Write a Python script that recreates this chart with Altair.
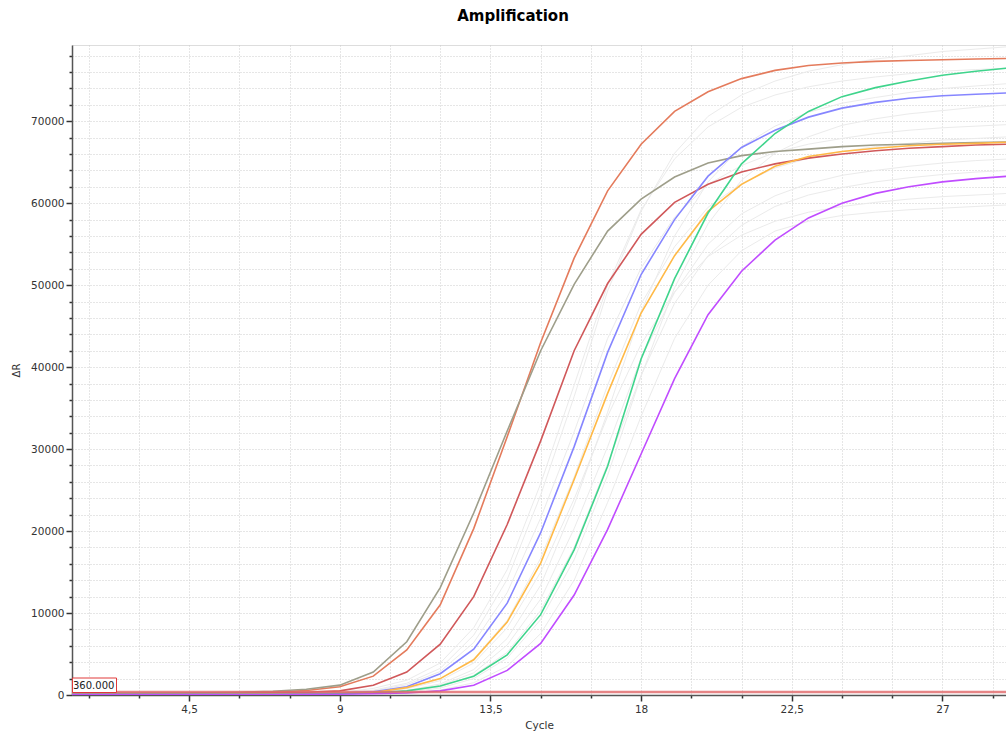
import altair as alt
import pandas as pd

cycles = list(range(1, 30))

# coloured amplification curves (ΔR per cycle 1..29)
salmon = [200, 200, 210, 220, 240, 280, 350, 550, 1000, 2300, 5500, 11000, 20300, 31500, 43000, 53300,
          61500, 67200, 71200, 73600, 75200, 76200, 76800, 77100, 77300, 77400, 77500, 77600, 77650]
olive = [200, 200, 210, 230, 260, 320, 450, 700, 1200, 2800, 6500, 13100, 22200, 32200, 42000, 50100,
         56600, 60500, 63200, 64900, 65800, 66300, 66600, 66900, 67100, 67200, 67300, 67400, 67450]
red = [150, 150, 150, 160, 170, 190, 230, 320, 500, 1200, 2800, 6200, 12000, 20800, 31000, 42000,
       50200, 56200, 60100, 62300, 63800, 64800, 65500, 66000, 66400, 66700, 66900, 67100, 67200]
blue = [100, 100, 100, 100, 110, 120, 140, 180, 250, 400, 1000, 2600, 5600, 11200, 19800, 30300,
        41800, 51300, 58000, 63300, 66800, 68900, 70500, 71600, 72300, 72800, 73100, 73300, 73450]
yellow = [100, 100, 100, 100, 100, 110, 120, 150, 200, 300, 900, 2000, 4300, 8900, 16100, 26300,
          36800, 46600, 53600, 59000, 62300, 64500, 65700, 66300, 66700, 67000, 67200, 67300, 67450]
green = [80, 80, 80, 80, 80, 90, 100, 120, 150, 250, 500, 1100, 2300, 4900, 9800, 17700,
         27900, 41000, 50800, 58800, 64800, 68500, 71200, 73000, 74100, 74900, 75600, 76100, 76500]
purple = [50, 50, 50, 50, 50, 60, 70, 80, 100, 150, 250, 500, 1200, 3000, 6300, 12200,
          20200, 29400, 38600, 46400, 51700, 55500, 58200, 60000, 61200, 62000, 62600, 63000, 63300]

# faint grey background curves
f1 = [150, 150, 150, 150, 160, 170, 190, 210, 240, 590, 1430, 3250, 7300, 14100, 24400, 36400,
      49300, 59000, 66100, 70600, 73200, 74900, 76100, 76900, 77600, 78000, 78500, 78800, 79100]
f2 = [150, 150, 150, 150, 150, 160, 180, 220, 300, 800, 1800, 3900, 8200, 15300, 25800, 37800,
      50000, 59200, 65400, 69300, 71700, 73200, 74200, 74900, 75400, 75800, 76100, 76300, 76500]
f3 = [120, 120, 120, 120, 120, 120, 120, 120, 140, 230, 560, 1350, 3100, 6900, 13400, 23200,
      34500, 46800, 56000, 62600, 66900, 69400, 71100, 72200, 72900, 73500, 74000, 74300, 74600]
f4 = [130, 130, 130, 130, 130, 130, 130, 130, 200, 520, 1260, 2870, 6400, 12500, 21600, 32100,
      43500, 52100, 58300, 62300, 64600, 66200, 67200, 67900, 68500, 68900, 69200, 69400, 69600]
f5 = [130, 130, 130, 130, 130, 130, 130, 130, 150, 350, 850, 1950, 4400, 9100, 16700, 26600,
      37800, 47700, 54700, 59500, 62400, 64300, 65500, 66300, 66900, 67300, 67700, 67900, 68100]
f6 = [110, 110, 110, 110, 110, 110, 110, 110, 120, 200, 490, 1190, 2700, 6100, 11700, 20300,
      30300, 41100, 49100, 55000, 58700, 60900, 62400, 63400, 64000, 64500, 64900, 65200, 65400]
f7 = [100, 100, 100, 100, 100, 100, 100, 100, 110, 200, 400, 1000, 2400, 5200, 10300, 18000,
      28200, 39000, 47800, 53600, 57300, 59600, 61000, 61900, 62600, 63100, 63500, 63800, 64000]
f8 = [120, 120, 120, 120, 120, 120, 120, 120, 140, 320, 760, 1750, 3900, 8200, 15000, 23900,
      34000, 42800, 49200, 53500, 56100, 57800, 58900, 59600, 60100, 60500, 60800, 61000, 61200]
f9 = [100, 100, 100, 100, 100, 100, 100, 100, 110, 150, 250, 600, 1500, 3500, 7500, 14000,
      23500, 34000, 43500, 50000, 54200, 56600, 57800, 58500, 58900, 59200, 59400, 59600, 59800]
f10 = [100, 100, 100, 100, 100, 100, 100, 100, 120, 200, 350, 850, 2000, 4500, 9200, 16500,
       26800, 38900, 49700, 57500, 62800, 66100, 68100, 69500, 70300, 70900, 71300, 71700, 72000]

colored_names = ["salmon", "olive", "red", "blue", "yellow", "green", "purple"]
colored_vals = [salmon, olive, red, blue, yellow, green, purple]
colored_hex = ["#e47b5c", "#9e9e8a", "#d0585a", "#8686ff", "#ffb946", "#3fd48c", "#c04cff"]

faint_names = ["f1", "f2", "f3", "f4", "f5", "f6", "f7", "f8", "f9", "f10"]
faint_vals = [f1, f2, f3, f4, f5, f6, f7, f8, f9, f10]

threshold = [360]
threshold_label = ["360.000"]

x_tick_values = [1.5, 3, 4.5, 6, 7.5, 9, 10.5, 12, 13.5, 15, 16.5, 18, 19.5, 21, 22.5, 24, 25.5, 27, 28.5]
y_tick_values = [0, 2000, 4000, 6000, 8000, 10000, 12000, 14000, 16000, 18000, 20000, 22000, 24000,
                 26000, 28000, 30000, 32000, 34000, 36000, 38000, 40000, 42000, 44000, 46000, 48000,
                 50000, 52000, 54000, 56000, 58000, 60000, 62000, 64000, 66000, 68000, 70000, 72000,
                 74000, 76000, 78000]

rows_f = []
for n, vals in zip(faint_names, faint_vals):
    for c, v in zip(cycles, vals):
        rows_f.append({"series": n, "cycle": c, "value": v})
df_f = pd.DataFrame(rows_f)

rows_c = []
for n, vals in zip(colored_names, colored_vals):
    for c, v in zip(cycles, vals):
        rows_c.append({"series": n, "cycle": c, "value": v})
df_c = pd.DataFrame(rows_c)

df_t = pd.DataFrame({"value": threshold, "label": threshold_label})

FONT = "DejaVu Sans"

x_axis = alt.Axis(
    values=x_tick_values,
    labelExpr="datum.value % 4.5 === 0 ? replace(toString(datum.value), '.', ',') : ''",
    labelOverlap=False, labelFlush=False,
    grid=True, gridDash=[1, 2], gridColor="#cccccc", gridWidth=1,
    tickSize={"condition": {"test": "datum.value % 4.5 === 0", "value": 6}, "value": 3},
    tickColor="#333333", tickWidth=1.5,
    domainColor="#555555", domainWidth=1.5,
    labelFont=FONT, labelFontSize=10.5, labelColor="#333333", labelPadding=3,
    title="Cycle", titleFont=FONT, titleFontSize=10.5, titleFontWeight="normal",
    titleColor="#333333", titleY=33, titleBaseline="alphabetic",
)
y_axis = alt.Axis(
    values=y_tick_values,
    labelExpr="datum.value % 10000 === 0 ? toString(datum.value) : ''",
    labelOverlap=False, labelFlush=False,
    grid=True, gridDash=[1, 2], gridColor="#cccccc", gridWidth=1,
    tickSize={"condition": {"test": "datum.value % 10000 === 0", "value": 6}, "value": 3},
    tickColor="#333333", tickWidth=1.5,
    domainColor="#555555", domainWidth=1.5,
    labelFont=FONT, labelFontSize=10.5, labelColor="#333333", labelPadding=2,
    title="ΔR", titleFont=FONT, titleFontSize=10, titleFontWeight="normal",
    titleColor="#333333", titleX=-56, titleY=325, titleAlign="center", titleBaseline="middle",
)

x_enc = alt.X("cycle:Q", scale=alt.Scale(domain=[1, 28.9], nice=False, zero=False), axis=x_axis)
y_enc = alt.Y("value:Q", scale=alt.Scale(domain=[0, 79300], nice=False), axis=y_axis)

faint = alt.Chart(df_f).mark_line(strokeWidth=1, clip=True, color="#ebebeb").encode(
    x=x_enc, y=y_enc, detail="series:N"
)

colored = alt.Chart(df_c).mark_line(strokeWidth=1.6, clip=True).encode(
    x=x_enc, y=y_enc,
    color=alt.Color("series:N", scale=alt.Scale(domain=colored_names, range=colored_hex), legend=None),
)

rule = alt.Chart(df_t).mark_rule(color="#e06668", strokeWidth=2.5, opacity=0.8).encode(y=y_enc)

box = alt.Chart(df_t).mark_rect(fill="white", stroke="#e03a3a", strokeWidth=1).encode(
    x=alt.value(0.5), x2=alt.value(44.5), y=alt.value(633), y2=alt.value(647.5)
)
label = alt.Chart(df_t).mark_text(
    font=FONT, fontSize=10, color="#222222", align="left", baseline="middle"
).encode(x=alt.value(1), y=alt.value(641), text="label:N")

chart = alt.layer(faint, colored, rule, box, label).properties(
    width=934, height=650,
    autosize=alt.AutoSizeParams(type="none"),
    padding={"left": 72, "top": 45, "right": 0, "bottom": 45},
    title=alt.TitleParams(
        "Amplification", font=FONT, fontSize=15, fontWeight="bold", color="#000000",
        anchor="middle", dx=-26, offset=9, baseline="alphabetic",
    ),
).configure_view(stroke=None).configure(background="white")

chart.save("out.html", embed_options={"renderer": "svg", "actions": False})
